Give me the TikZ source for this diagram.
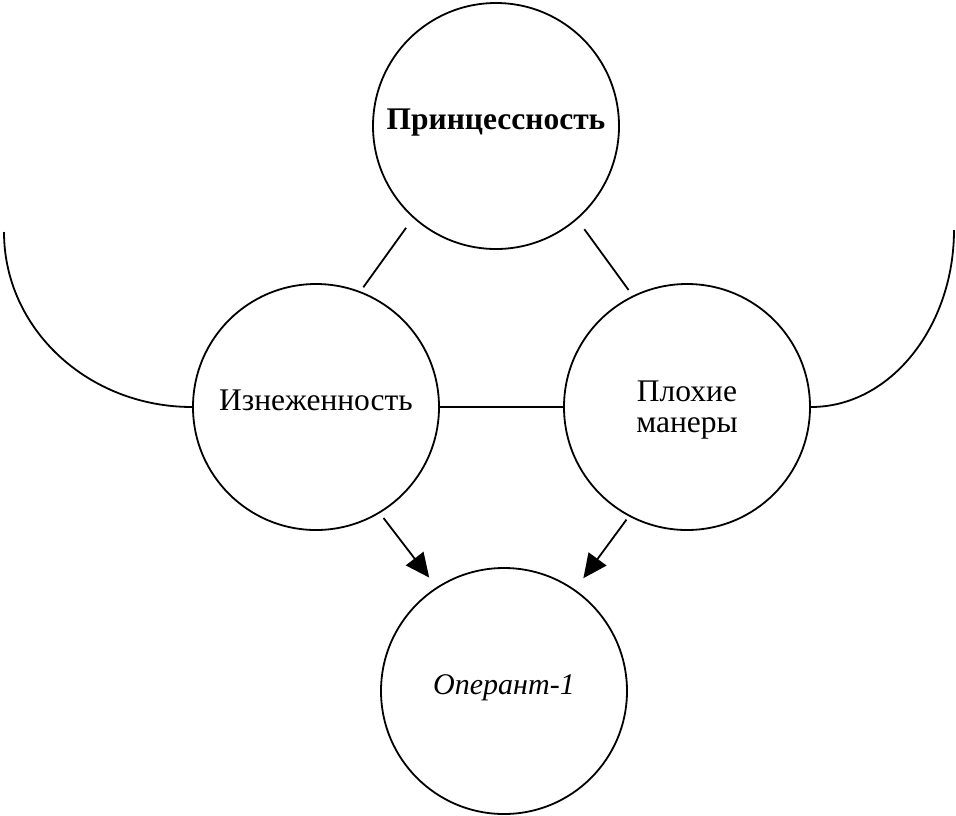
\documentclass[tikz,border=0pt]{standalone}
\usepackage{fontspec}
\setmainfont{Liberation Serif}
\usetikzlibrary{arrows.meta}
\begin{document}
\begin{tikzpicture}[x=1pt, y=-1pt, line width=1.8pt, line join=round, >={Triangle[length=24pt,width=22pt]},
  bubble/.style={draw, circle, minimum size=246pt, inner sep=0pt, text height=20pt, text depth=14pt},
  txt/.style={font=\fontsize{31.5}{31}\selectfont}]
\useasboundingbox (0,0) rectangle (956,815);
\node[bubble, txt, font=\fontsize{31.5}{31}\selectfont\bfseries] (princ) at (496,126) {Принцессность};
\node[bubble, txt] (izn) at (316,407) {Изнеженность};
\node[bubble, txt, align=center, text height={}, text depth=-10pt] (plox) at (687,407) {Плохие\\манеры};
\node[bubble, txt, font=\fontsize{30}{31}\selectfont\itshape] (oper) at (504,691) {Оперант-1};
\coordinate (lend) at (4,232);
\coordinate (rend) at (954,230);
% links
\draw[shorten <=12pt, shorten >=5pt] (princ.228) -- (izn.69);
\draw[shorten <=12pt, shorten >=7pt] (princ.311) -- (plox.116);
\draw (izn.east) -- (plox.west);
\draw[->, shorten <=6pt, shorten >=12pt] (izn.301) -- (oper.123);
\draw[->, shorten <=4pt, shorten >=14pt] (plox.242) -- (oper.55);
% side curves
\draw (izn.west) .. controls +(-104,0) and +(0,97) .. (lend);
\draw (plox.east) .. controls +(80,0) and +(0,96) .. (rend);
\end{tikzpicture}
\end{document}
